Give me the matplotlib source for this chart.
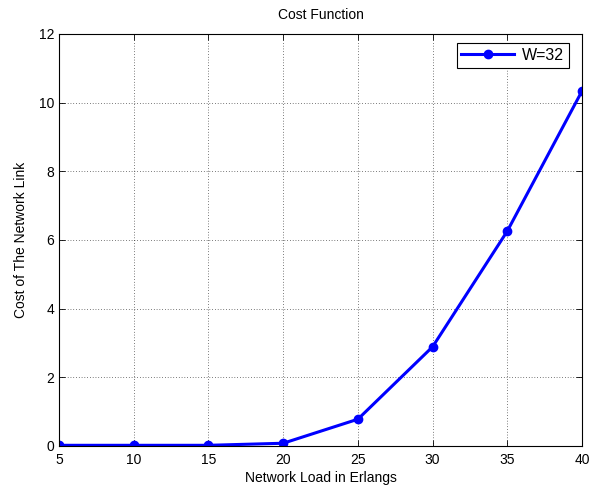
import matplotlib
matplotlib.use('Agg')
import matplotlib.pyplot as plt

plt.rcParams['font.family'] = ['Liberation Sans', 'DejaVu Sans']
plt.rcParams['font.size'] = 10

# data
load = [5, 10, 15, 20, 25, 30, 35, 40]
cost = [0.02, 0.02, 0.02, 0.08, 0.78, 2.89, 6.26, 10.34]
xticks = [5, 10, 15, 20, 25, 30, 35, 40]
yticks = [0, 2, 4, 6, 8, 10, 12]

fig = plt.figure(figsize=(5.95, 4.87), dpi=100)
ax = fig.add_axes([0.0992, 0.0842, 0.879, 0.846])

ax.plot(load, cost, color='#0000ff', linewidth=2.2, marker='o', markersize=6,
        label='W=32')

ax.set_xlim(5, 40)
ax.set_ylim(0, 12)
ax.set_xticks(xticks)
ax.set_yticks(yticks)
ax.tick_params(direction='in', top=True, right=True, length=4, width=0.6)
ax.tick_params(axis='x', pad=5)
ax.grid(True, color='black', linestyle=(0, (1, 3)), linewidth=0.5)
for s in ax.spines.values():
    s.set_linewidth(0.8)

ax.set_title('Cost Function', fontsize=10, pad=11)
ax.set_xlabel('Network Load in Erlangs', labelpad=3)
ax.set_ylabel('Cost of The Network Link', labelpad=8)

leg = ax.legend(loc='upper right', bbox_to_anchor=(0.975, 0.978),
                fancybox=False, edgecolor='black', framealpha=1,
                borderaxespad=0, handlelength=3.3, fontsize=11.5,
                borderpad=0.3, handletextpad=0.5)
leg.get_frame().set_linewidth(0.8)

fig.savefig('out.png', dpi=100)
